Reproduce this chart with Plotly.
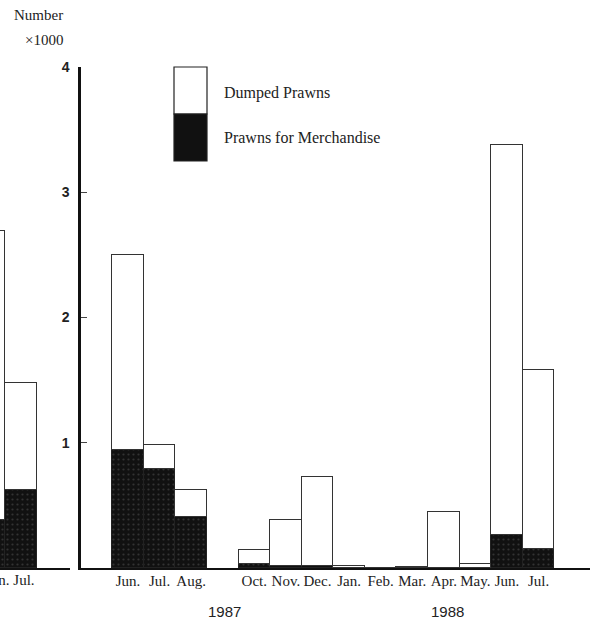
import plotly.graph_objects as go

# ---- data (numbers x1000) ----
left_months = ["Jun.", "Jul."]            # preceding panel (cut off at left edge)
left_merch = [0.38, 0.62]
left_dumped = [2.31, 0.86]

months = ["Jun.", "Jul.", "Aug.", "", "Oct.", "Nov.", "Dec.", "Jan.", "Feb.", "Mar.",
          "Apr.", "May.", "Jun.", "Jul."]
merch = [0.94, 0.79, 0.41, None, 0.03, 0.015, 0.02, 0.0, 0.0, 0.0, 0.0, 0.0, 0.26, 0.15]
dumped = [1.56, 0.19, 0.21, None, 0.11, 0.365, 0.71, 0.02, 0.0, 0.01, 0.45, 0.03, 3.12, 1.43]
years = ["1987", "1988"]
y_ticks = [1, 2, 3, 4]

W, H = 594, 621
serif = "Liberation Serif, Times New Roman, serif"
sans = "Liberation Sans, Arial, sans-serif"

black_marker = dict(color="#111111", line=dict(color="#222222", width=1),
                    pattern=dict(shape=".", fgcolor="#555555", size=5, solidity=0.15))
white_marker = dict(color="white", line=dict(color="#333333", width=1))

x_main = list(range(len(months)))
x_left = list(range(len(left_months)))

fig = go.Figure()
fig.add_trace(go.Bar(x=x_left, y=left_merch, marker=black_marker, xaxis="x2", yaxis="y",
                     showlegend=False, width=1))
fig.add_trace(go.Bar(x=x_left, y=left_dumped, marker=white_marker, xaxis="x2", yaxis="y",
                     showlegend=False, width=1))
fig.add_trace(go.Bar(x=x_main, y=merch, marker=black_marker, xaxis="x", yaxis="y",
                     name="Prawns for Merchandise", showlegend=False, width=1))
fig.add_trace(go.Bar(x=x_main, y=dumped, marker=white_marker, xaxis="x", yaxis="y",
                     name="Dumped Prawns", showlegend=False, width=1))

px_per_unit = 31.58
x0_main = 81
x_end = 590
main_left = -(128 - x0_main) / px_per_unit
main_right = (x_end - 128) / px_per_unit

fig.update_layout(
    width=W, height=H,
    margin=dict(l=0, r=0, t=67, b=53),
    plot_bgcolor="white", paper_bgcolor="white",
    barmode="stack", bargap=0,
    xaxis=dict(domain=[x0_main / W, x_end / W], range=[main_left, main_right],
               showline=True, linecolor="#111", linewidth=1.5, showgrid=False, zeroline=False,
               tickmode="array", tickvals=x_main, ticktext=months, ticks="",
               ticklabelstandoff=-2,
               tickfont=dict(family=serif, size=15, color="#222"), anchor="y"),
    xaxis2=dict(domain=[0, 70 / W], range=[1 - 21 / px_per_unit, 1 + 49 / px_per_unit],
                showline=True, linecolor="#111", linewidth=1.5, showgrid=False, zeroline=False,
                showticklabels=False, ticks="", anchor="y"),
    yaxis=dict(range=[0, 4], showline=True, linecolor="#111", linewidth=2.5,
               showgrid=False, zeroline=False, tickmode="array", tickvals=y_ticks,
               ticks="inside", ticklen=6, tickwidth=1, tickcolor="#444",
               ticklabelstandoff=6,
               tickfont=dict(family=sans, size=14, color="#222", weight="bold"),
               anchor="x"),
)

# cut-off labels of preceding panel
fig.add_annotation(text=" ".join(left_months), xref="paper", yref="paper",
                   x=37 / W, y=-0.003, xanchor="right", yanchor="top", showarrow=False,
                   font=dict(family=serif, size=15, color="#222"))

# year labels
fig.add_annotation(text=years[0], xref="x", yref="paper", x=(224 - 128) / px_per_unit, y=-0.065,
                   xanchor="center", yanchor="top", showarrow=False,
                   font=dict(family=sans, size=15, color="#222"))
fig.add_annotation(text=years[1], xref="x", yref="paper", x=(447 - 128) / px_per_unit, y=-0.065,
                   xanchor="center", yanchor="top", showarrow=False,
                   font=dict(family=sans, size=15, color="#222"))

# axis title
fig.add_annotation(text="Number", xref="paper", yref="paper", x=12 / W, y=(568 - 15) / 501,
                   xanchor="left", yanchor="middle", showarrow=False,
                   font=dict(family=serif, size=15, color="#222"))
fig.add_annotation(text="×1000", xref="paper", yref="paper", x=23 / W, y=(568 - 40) / 501,
                   xanchor="left", yanchor="middle", showarrow=False,
                   font=dict(family=serif, size=15, color="#222"))

# custom legend
def py(v):
    return (568 - v) / 501

fig.add_shape(type="rect", xref="paper", yref="paper", x0=174 / W, x1=207 / W,
              y0=py(114), y1=py(67), fillcolor="white", line=dict(color="#222", width=1.2))
fig.add_shape(type="rect", xref="paper", yref="paper", x0=174 / W, x1=207 / W,
              y0=py(161), y1=py(114), fillcolor="#111111", line=dict(color="#222", width=1.2))
fig.add_annotation(text="Dumped Prawns", xref="paper", yref="paper", x=222 / W, y=py(93),
                   xanchor="left", yanchor="middle", showarrow=False,
                   font=dict(family=serif, size=16, color="#222"))
fig.add_annotation(text="Prawns for Merchandise", xref="paper", yref="paper", x=222 / W, y=py(137),
                   xanchor="left", yanchor="middle", showarrow=False,
                   font=dict(family=serif, size=16, color="#222"))

fig.write_html("out.html", config={"displayModeBar": False},
               post_script="document.body.style.margin='0';document.body.style.overflow='hidden';")
